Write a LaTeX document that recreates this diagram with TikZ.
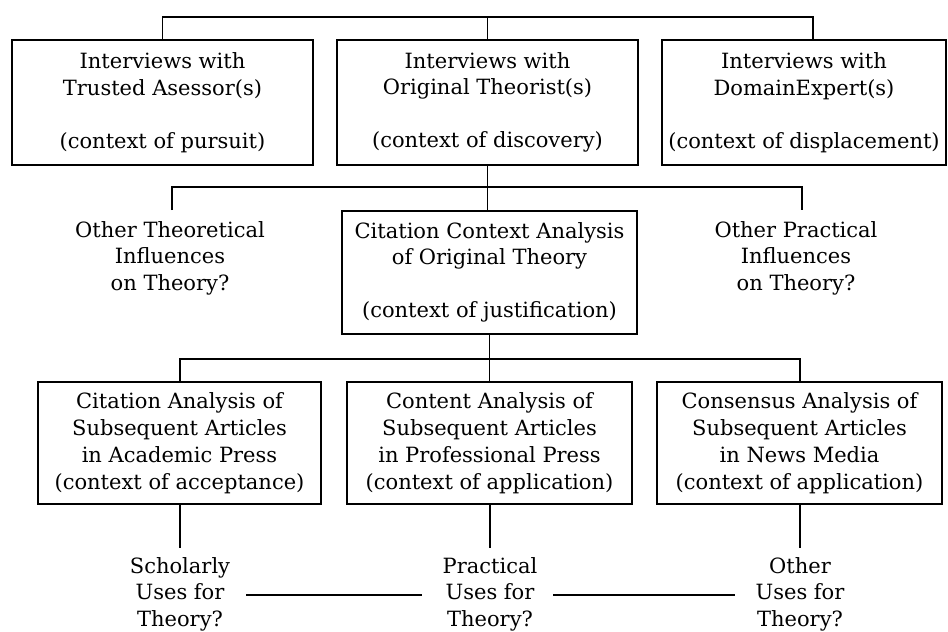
\documentclass[tikz,border=0pt]{standalone}
\usepackage{fontspec}
\setmainfont{DejaVu Serif}
\begin{document}
\begin{tikzpicture}[x=1pt,y=-1pt,
  every node/.style={font=\fontsize{21}{26.5}\selectfont, align=center, inner sep=0pt},
  box/.style={draw, line width=1.5pt, minimum height=125pt},
  conn/.style={line width=1.5pt}]
\useasboundingbox (0,0) rectangle (948,632);
% top level
\node[box, minimum width=301pt] (b1) at (162.5,102.5) {Interviews with\\Trusted Asessor(s)\\[26.5pt](context of pursuit)};
\node[box, minimum width=301pt] (b2) at (487.5,102.5) {Interviews with\\Original Theorist(s)\\[26.5pt](context of discovery)};
\node[box, minimum width=284pt] (b3) at (804,102.5) {Interviews with\\DomainExpert(s)\\[26.5pt](context of displacement)};
\coordinate (tl) at (162.5,17);
\coordinate (tr) at (813,17);
\draw[conn] (b1.north) -- (tl) -- (tr) -- (tr |- b3.north);
\draw[conn] (b2.north) -- (b2.north |- tl);
% second level
\node[box, minimum width=295pt, minimum height=123pt] (cc) at (489.5,272.5) {Citation Context Analysis\\of Original Theory\\[26.5pt](context of justification)};
\node (ot) at (170,258) {Other Theoretical\\Influences\\on Theory?};
\node (op) at (796,258) {Other Practical\\Influences\\on Theory?};
\coordinate (ml) at (172,187);
\coordinate (mr) at (802,187);
\draw[conn] (b2.south) -- (b2.south |- cc.north);
\draw[conn] (ml) ++(0,23) -- (ml) -- (mr) -- ++(0,23);
% third level
\node[box, minimum width=283pt, minimum height=122pt, font=\fontsize{21}{27}\selectfont] (l1) at (179.5,443) {Citation Analysis of\\Subsequent Articles\\in Academic Press\\(context of acceptance)};
\node[box, minimum width=285pt, minimum height=122pt, font=\fontsize{21}{27}\selectfont] (l2) at (489.5,443) {Content Analysis of\\Subsequent Articles\\in Professional Press\\(context of application)};
\node[box, minimum width=285pt, minimum height=122pt, font=\fontsize{21}{27}\selectfont] (l3) at (799.5,443) {Consensus Analysis of\\Subsequent Articles\\in News Media\\(context of application)};
\coordinate (bl) at (180,359);
\coordinate (br) at (800,359);
\draw[conn] (cc.south) -- (cc.south |- bl);
\draw[conn] (l1.north -| bl) -- (bl) -- (br) -- (l3.north -| br);
\draw[conn] (l2.north) -- (l2.north |- bl);
% bottom
\node (u1) at (180,594) {Scholarly\\Uses for\\Theory?};
\node (u2) at (490,594) {Practical\\Uses for\\Theory?};
\node (u3) at (800,594) {Other\\Uses for\\Theory?};
\draw[conn] (l1.south -| u1) -- ++(0,43);
\draw[conn] (l2.south -| u2) -- ++(0,43);
\draw[conn] (l3.south -| u3) -- ++(0,43);
\draw[conn] ([xshift=66pt,yshift=-1pt]u1.center) -- ([xshift=-68pt,yshift=-1pt]u2.center);
\draw[conn] ([xshift=63pt,yshift=-1pt]u2.center) -- ([xshift=-65pt,yshift=-1pt]u3.center);
\end{tikzpicture}
\end{document}
